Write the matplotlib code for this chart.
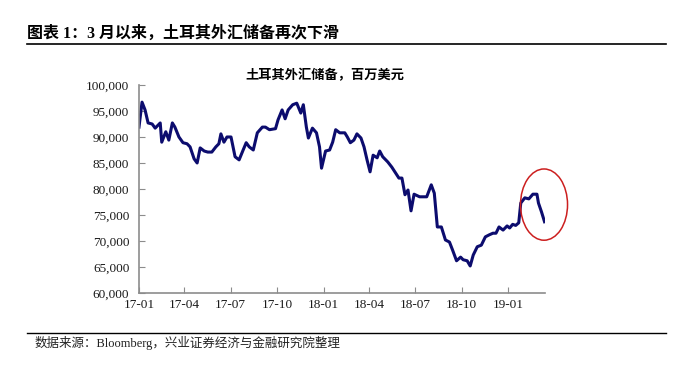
#!/usr/bin/env python3
"""Turkey FX reserves chart (weekly, USD mn)."""

import matplotlib
matplotlib.use("Agg")
import matplotlib.dates as mdates
import matplotlib.pyplot as plt
import pandas as pd
from matplotlib.lines import Line2D
from matplotlib.patches import Ellipse
from matplotlib.ticker import FuncFormatter, MultipleLocator

plt.rcParams["font.family"] = ["Liberation Serif", "Noto Sans CJK SC"]

DATES = [
    "2017-01-01", "2017-01-07", "2017-01-13", "2017-01-19", "2017-01-27", "2017-02-02",
    "2017-02-12", "2017-02-15", "2017-02-23", "2017-03-01", "2017-03-08", "2017-03-13",
    "2017-03-21", "2017-03-29", "2017-04-06", "2017-04-12", "2017-04-20", "2017-04-26",
    "2017-05-02", "2017-05-10", "2017-05-17", "2017-05-25", "2017-06-02", "2017-06-08",
    "2017-06-12", "2017-06-18", "2017-06-24", "2017-07-02", "2017-07-10", "2017-07-18",
    "2017-07-26", "2017-08-01", "2017-08-07", "2017-08-15", "2017-08-23", "2017-09-02",
    "2017-09-08", "2017-09-16", "2017-09-28", "2017-10-03", "2017-10-11", "2017-10-17",
    "2017-10-23", "2017-11-01", "2017-11-09", "2017-11-17", "2017-11-22", "2017-11-28",
    "2017-12-02", "2017-12-10", "2017-12-18", "2017-12-24", "2017-12-28", "2018-01-05",
    "2018-01-13", "2018-01-19", "2018-01-25", "2018-02-02", "2018-02-12", "2018-02-17",
    "2018-02-23", "2018-03-02", "2018-03-08", "2018-03-16", "2018-03-22", "2018-03-28",
    "2018-04-03", "2018-04-09", "2018-04-17", "2018-04-22", "2018-04-28", "2018-05-08",
    "2018-05-16", "2018-05-22", "2018-05-30", "2018-06-05", "2018-06-11", "2018-06-17",
    "2018-06-23", "2018-06-29", "2018-07-10", "2018-07-24", "2018-08-02", "2018-08-08",
    "2018-08-14", "2018-08-22", "2018-08-30", "2018-09-07", "2018-09-13", "2018-09-21",
    "2018-09-29", "2018-10-04", "2018-10-12", "2018-10-18", "2018-10-24", "2018-11-01",
    "2018-11-09", "2018-11-17", "2018-11-25", "2018-12-02", "2018-12-08", "2018-12-14",
    "2018-12-22", "2018-12-30", "2019-01-04", "2019-01-10", "2019-01-16", "2019-01-22",
    "2019-01-26", "2019-02-03", "2019-02-11", "2019-02-19", "2019-02-27", "2019-03-02",
    "2019-03-08", "2019-03-14",
]
RESERVES = [
    91900, 96700, 95200, 92700, 92500, 91700,
    92700, 89000, 91000, 89400, 92700, 91900,
    90000, 88900, 88700, 88100, 85800, 85000,
    87900, 87300, 87100, 87100, 88100, 88700,
    90600, 89000, 90000, 90000, 86200, 85600,
    87500, 88900, 88100, 87500, 90800, 91900,
    91900, 91400, 91600, 93300, 95200, 93500,
    95200, 96200, 96500, 94600, 96200, 91900,
    89800, 91700, 90800, 88100, 84000, 87300,
    87500, 89000, 91400, 90800, 90800, 90000,
    88900, 89400, 90600, 89800, 88100, 85600,
    83300, 86500, 86000, 87300, 86200, 85200,
    84200, 83300, 82100, 82100, 78900, 79800,
    75800, 79000, 78500, 78500, 80800, 79200,
    72700, 72700, 70200, 69800, 68300, 66200,
    66900, 66400, 66200, 65200, 67300, 68900,
    69200, 70800, 71200, 71500, 71500, 72700,
    72100, 72900, 72500, 73200, 73000, 73500,
    77300, 78300, 78100, 79000, 79000, 77300,
    75600, 73700,
]

LINE_COLOR = "#0c0c6e"
AXIS_COLOR = "#8c8c8c"


def main() -> None:
    dates = pd.to_datetime(DATES)

    fig = plt.figure(figsize=(6.83, 3.76), dpi=100)
    ax = fig.add_axes([0.2035, 0.2207, 0.5945, 0.5533])
    ax.plot(dates, RESERVES, color=LINE_COLOR, linewidth=2.2, solid_joinstyle="round")

    ax.set_ylim(60000, 100000)
    ax.set_xlim(pd.Timestamp("2017-01-01"), pd.Timestamp("2019-03-15"))
    ax.yaxis.set_major_locator(MultipleLocator(5000))
    ax.yaxis.set_major_formatter(FuncFormatter(lambda v, _: f"{int(v):,}"))
    ax.xaxis.set_major_locator(mdates.MonthLocator(bymonth=[1, 4, 7, 10]))
    ax.xaxis.set_major_formatter(mdates.DateFormatter("%y-%m"))

    for side in ("top", "right"):
        ax.spines[side].set_visible(False)
    for side in ("left", "bottom"):
        ax.spines[side].set_color(AXIS_COLOR)
        ax.spines[side].set_linewidth(1.2)
    ax.tick_params(axis="both", direction="in", length=4, color=AXIS_COLOR,
                   labelsize=9.5, labelcolor="#1a1a1a")
    ax.tick_params(axis="y", pad=7)
    ax.tick_params(axis="x", pad=4)

    # red circle around the latest drop
    ell = Ellipse((mdates.date2num(pd.Timestamp("2019-03-13")), 77000),
                  width=93, height=13700, fill=False, edgecolor="#cc1f1f",
                  linewidth=1.1, clip_on=False, zorder=6)
    ax.add_patch(ell)

    fig.text(0.476, 0.80, "土耳其外汇储备，百万美元", ha="center", va="center",
             fontsize=9.5, fontweight="bold", family=["Noto Sans CJK SC"])

    fig.text(0.040, 0.910, "图表 1：3 月以来，土耳其外汇储备再次下滑", ha="left",
             va="center", fontsize=11.5, fontweight="bold",
             family=["Liberation Serif", "Noto Sans CJK SC"])
    fig.add_artist(Line2D([0.040, 0.975], [0.884, 0.884], color="black", linewidth=1.2))
    fig.add_artist(Line2D([0.040, 0.975], [0.114, 0.114], color="black", linewidth=1.0))
    fig.text(0.050, 0.089, "数据来源：Bloomberg，兴业证券经济与金融研究院整理", ha="left",
             va="center", fontsize=9, color="#222222")

    fig.savefig("out.png", dpi=100)
    plt.close("all")


if __name__ == "__main__":
    main()
